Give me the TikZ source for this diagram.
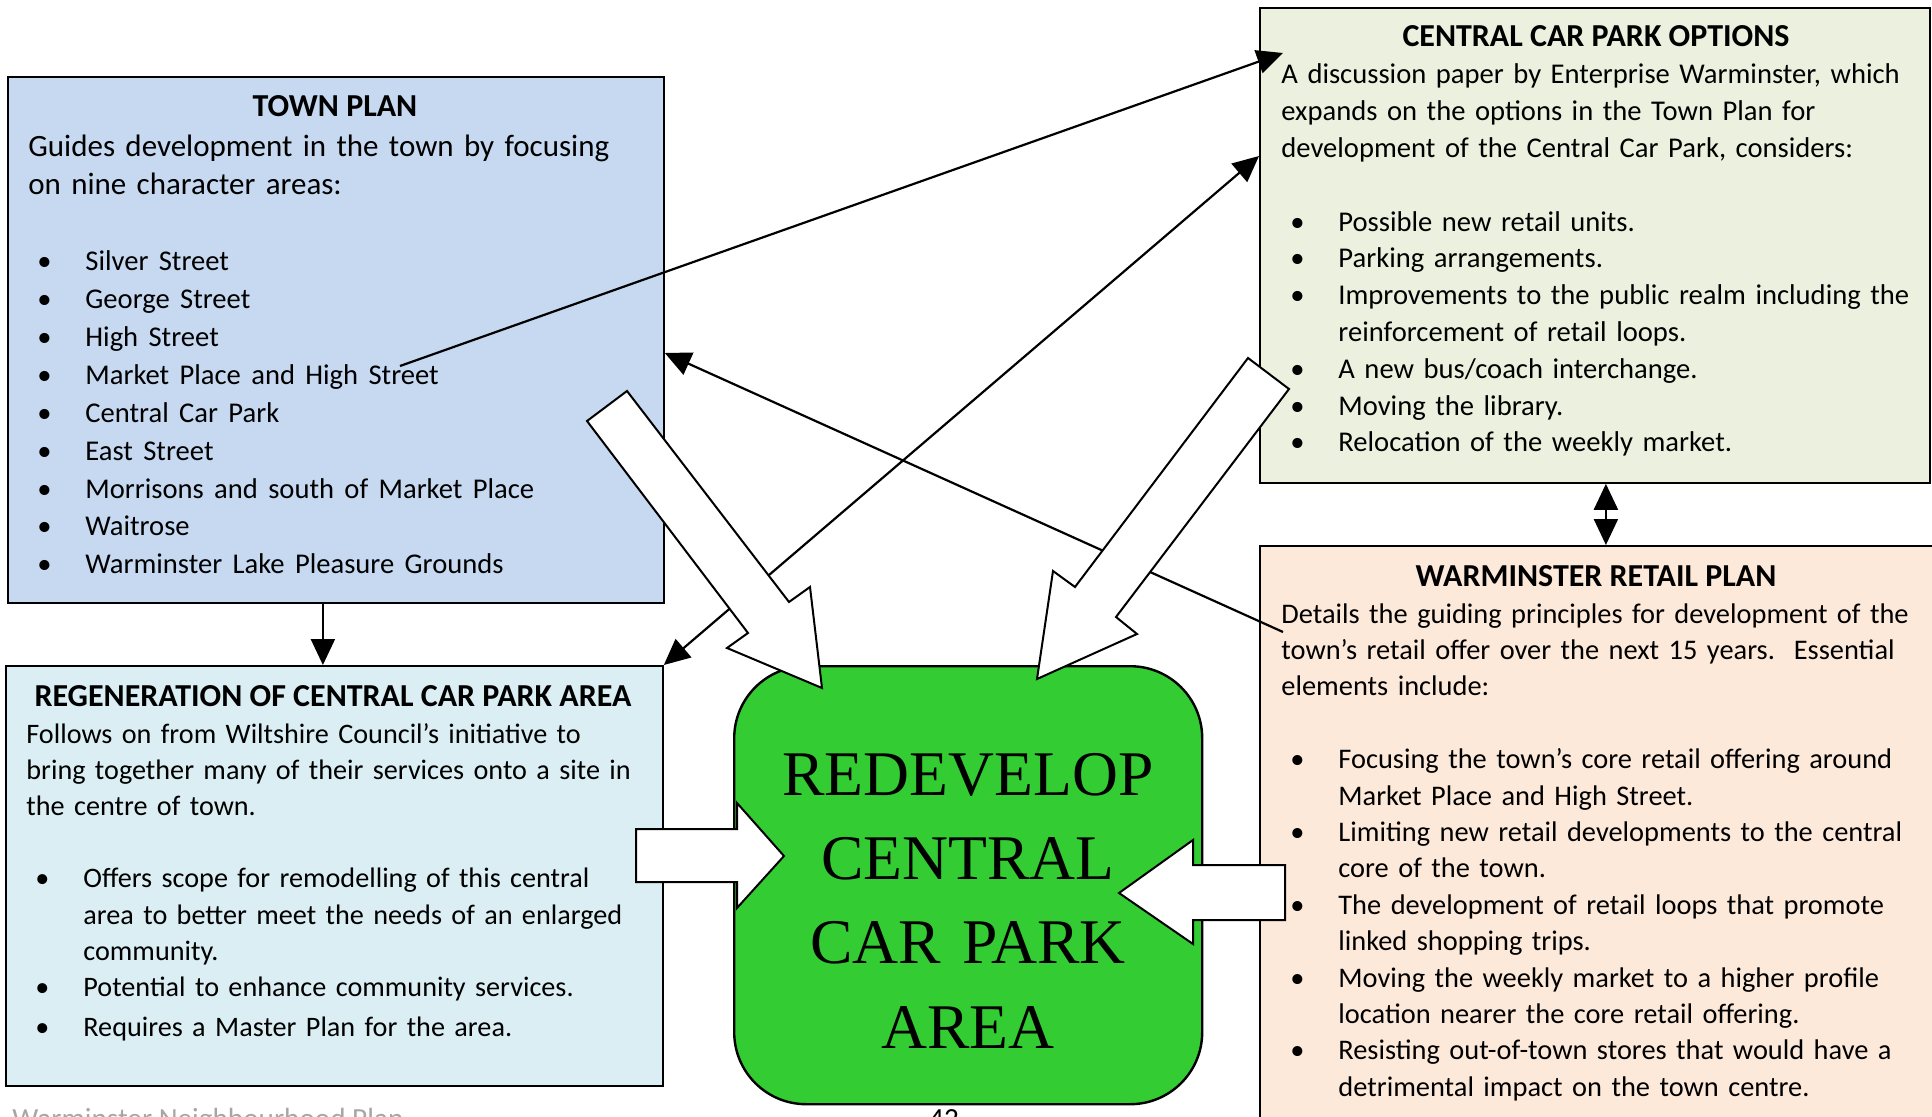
\documentclass[tikz,border=0pt]{standalone}
\usepackage{fontspec}
\setmainfont{Carlito}
\newfontfamily\bigserif{Liberation Serif}
\usetikzlibrary{arrows.meta}
\definecolor{townblue}{HTML}{C6D9F1}
\definecolor{regenblue}{HTML}{DAEEF3}
\definecolor{optgreen}{HTML}{EBF1DE}
\definecolor{retailpeach}{HTML}{FDE9D9}
\definecolor{centregreen}{HTML}{33CC33}
\definecolor{footgrey}{HTML}{A6A6A6}
\newcommand\bitem{\par\hangindent=28.5pt\hangafter=1\noindent\makebox[28.5pt][l]{\hspace{4.5pt}\textbullet}}
\begin{document}
\begin{tikzpicture}[x=0.5pt,y=-0.5pt,>={Triangle[length=13pt,width=12pt]},
  plan/.style={draw,line width=0.9pt,rectangle,inner sep=0,anchor=north west},
  head/.style={inner sep=0,anchor=base,font=\fontsize{16}{16}\selectfont\bfseries},
  body/.style 2 args={inner sep=0,anchor=base west,align=left,text width=420pt,font=\fontsize{#1}{#2}\selectfont},
  link/.style={line width=1.1pt,->},
  twin/.style={line width=1.1pt,<->},
  fat/.style={draw,line width=1pt,fill=white,line join=miter}]
  \useasboundingbox (0,0) rectangle (1932,1117);
  \node[plan,fill=townblue,minimum width=328pt,minimum height=263pt] (tp) at (7,76) {};
  \node[plan,fill=optgreen,minimum width=335pt,minimum height=237.5pt] (opt) at (1259,7) {};
  \node[plan,fill=retailpeach,minimum width=345pt,minimum height=300pt] (ret) at (1259,545) {};
  \node[plan,fill=regenblue,minimum width=328.5pt,minimum height=210pt] (reg) at (5,665) {};

  \node[head] (tp-head) at (335,117) {TOWN PLAN};
  \node[body={15.5}{18.95}] (tp-body) at (28,157) {Guides development in the town by focusing\\
    on nine character areas:\par\vspace{\baselineskip}\fontsize{14.3}{18.95}\selectfont
    \bitem Silver Street
    \bitem George Street
    \bitem High Street
    \bitem Market Place and High Street
    \bitem Central Car Park
    \bitem East Street
    \bitem Morrisons and south of Market Place
    \bitem Waitrose
    \bitem Warminster Lake Pleasure Grounds\par};

  \node[head] (opt-head) at (1596,47) {CENTRAL CAR PARK OPTIONS};
  \node[body={14.3}{18.4}] (opt-body) at (1281,84) {A discussion paper by Enterprise Warminster, which\\
    expands on the options in the Town Plan for\\
    development of the Central Car Park, considers:\par\vspace{\baselineskip}
    \bitem Possible new retail units.
    \bitem Parking arrangements.
    \bitem Improvements to the public realm including the\newline reinforcement of retail loops.
    \bitem A new bus/coach interchange.
    \bitem Moving the library.
    \bitem Relocation of the weekly market.\par};

  \node[head] (ret-head) at (1596,586) {WARMINSTER RETAIL PLAN};
  \node[body={14.2}{18.2}] (ret-body) at (1281,623) {Details the guiding principles for development of the\\
    town’s retail offer over the next 15 years.\ \ Essential\\
    elements include:\par\vspace{\baselineskip}
    \bitem Focusing the town’s core retail offering around\newline Market Place and High Street.
    \bitem Limiting new retail developments to the central\newline core of the town.
    \bitem The development of retail loops that promote\newline linked shopping trips.
    \bitem Moving the weekly market to a higher profile\newline location nearer the core retail offering.
    \bitem Resisting out-of-town stores that would have a\newline detrimental impact on the town centre.\par};

  \node[head] (reg-head) at (333,706) {REGENERATION OF CENTRAL CAR PARK AREA};
  \node[body={14.1}{18.1}] (reg-body) at (26,743) {Follows on from Wiltshire Council’s initiative to\\
    bring together many of their services onto a site in\\
    the centre of town.\par\vspace{\baselineskip}
    \bitem Offers scope for remodelling of this central\newline area to better meet the needs of an enlarged\newline community.
    \bitem Potential to enhance community services.\par\vspace{2pt}
    \bitem Requires a Master Plan for the area.\par};

  \node[anchor=base west,inner sep=0,text=footgrey,font=\fontsize{14.6}{17}\selectfont] (foot) at (12,1128) {Warminster Neighbourhood Plan};
  \node[anchor=base,inner sep=0,font=\fontsize{14.6}{17}\selectfont] (page) at (944,1128) {42};

  \coordinate (mkt) at (400,366);
  \coordinate (det) at (1283,632);
  \draw[link] ([xshift=-6.5pt]tp.south) -- ([xshift=-6.5pt]tp.south |- reg.north);
  \draw[link] (mkt) -- ([xshift=12pt,yshift=-23pt]opt.north west);
  \draw[twin] (reg.north east) -- ([yshift=-74.5pt]opt.north west);
  \draw[link] (det) -- ([yshift=-138.5pt]tp.north east);
  \draw[twin] ([xshift=5.5pt]opt.south) -- ([xshift=5.5pt]opt.south |- ret.north);

  \node[draw,line width=1.2pt,fill=centregreen,rounded corners=36pt,inner sep=0,anchor=north west,
    minimum width=234pt,minimum height=219pt] (cen) at (733,665) {};
  \node[anchor=base,inner sep=0,align=center,text width=230pt,font=\bigserif\fontsize{31.8}{42.2}\selectfont]
    (cen-text) at (968,795) {REDEVELOP\\ CENTRAL\\ CAR PARK\\ AREA};

  \draw[fat] (587,421) -- (627,391) -- (789,602) -- (810,587) -- (822,688) -- (727,648) -- (748,633) -- cycle;
  \draw[fat] (1248,358) -- (1289,389) -- (1116,617) -- (1137,634) -- (1037,679) -- (1053,571) -- (1075,587) -- cycle;
  \draw[fat] (636,829) -- (737,829) -- (737,803) -- (784,856) -- (737,908) -- (737,882) -- (636,882) -- cycle;
  \draw[fat] (1285,865) -- (1193,865) -- (1193,840) -- (1119,893) -- (1193,944) -- (1193,920) -- (1285,920) -- cycle;
\end{tikzpicture}
\end{document}
